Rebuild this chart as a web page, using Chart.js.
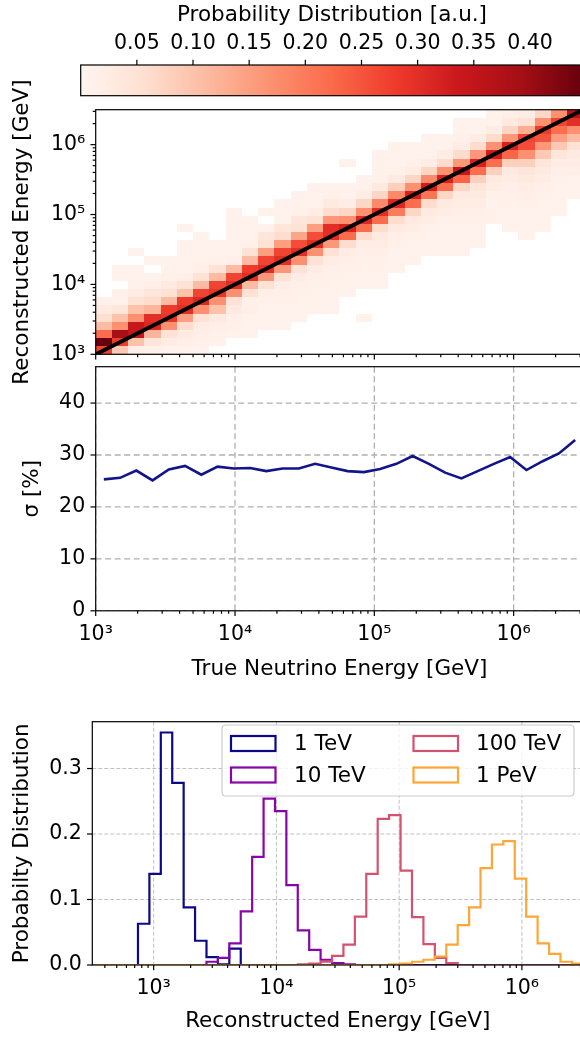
<!DOCTYPE html>
<html><head><meta charset="utf-8">
<script src="https://cdn.jsdelivr.net/npm/chart.js@4.4.1/dist/chart.umd.min.js"></script>
<style>
html,body{margin:0;padding:0;background:#fff;overflow:hidden;width:580px;height:1040px;}
#wrap{position:relative;width:584px;height:1040px;overflow:hidden;}
canvas{position:absolute;left:0;display:block;}
</style></head><body><div id="wrap">
<canvas id="cHeat" width="584" height="340" style="top:60px"></canvas>
<canvas id="cSigma" width="584" height="360" style="top:340px"></canvas>
<canvas id="cBar" width="584" height="110" style="top:0px"></canvas>
<canvas id="cHist" width="584" height="350" style="top:690px"></canvas>
</div>
<script>
// ---------------- DATA ----------------
// bin edges of the 2D histogram (true and reconstructed energy, GeV)
const heatEdges = [1000,1308,1711,2239,2929,3831,5012,6556,8577,11220,14678,19201,25119,32860,42987,56234,73564,96235,125893,164691,215443,281838,368695,482315,630957,825404,1079775,1412538,1847850,2417302,3162278];
// per true-energy column: [first listed reco row, probabilities going upward ...]
const heatCols = [
 [0, 0.27,0.447,0.22,0.11,0.056,0.03,0.012],
 [0, 0.09,0.28,0.39,0.17,0.10,0.04,0.008,0.012,0,0.008,0.008],
 [0, 0.015,0.10,0.34,0.34,0.17,0.10,0.05,0.02,0.012,0.01,0.008,0,0.008],
 [0, 0.012,0.04,0.12,0.31,0.30,0.12,0.06,0.04,0.015,0.01,0,0.008],
 [0, 0.01,0.02,0.05,0.17,0.29,0.28,0.11,0.05,0.03,0.012,0.008,0.008],
 [0, 0.008,0.015,0.03,0.06,0.15,0.30,0.28,0.10,0.05,0.015,0.01,0.008,0.008,0.008,0,0.008],
 [0, 0.008,0.012,0.015,0.02,0.05,0.17,0.31,0.27,0.11,0.05,0.015,0.01,0.008,0.008,0.008],
 [1, 0.008,0.012,0.015,0.03,0.10,0.17,0.29,0.27,0.11,0.05,0.012,0.01,0.008],
 [2, 0.01,0.012,0.015,0.03,0.05,0.17,0.30,0.27,0.11,0.015,0.01,0.008,0.008,0.008,0.008,0.008],
 [2, 0.008,0.008,0.01,0.015,0.012,0.05,0.11,0.30,0.28,0.11,0.05,0.012,0.01,0.008,0.008],
 [3, 0.008,0.008,0.01,0.012,0.015,0.05,0.16,0.30,0.27,0.15,0.05,0.04,0.01,0,0.008],
 [3, 0.008,0.008,0.01,0.012,0.015,0.02,0.05,0.16,0.30,0.27,0.15,0.06,0.04,0.01,0.008,0.008],
 [4, 0.008,0.008,0.01,0.012,0.015,0.02,0.05,0.17,0.30,0.26,0.14,0.05,0.04,0.012,0.008,0.008],
 [5, 0.008,0.008,0.01,0.012,0.015,0.02,0.05,0.17,0.30,0.26,0.15,0.05,0.02,0.01,0.008,0.008],
 [5, 0.008,0.008,0.008,0.01,0.012,0.015,0.02,0.05,0.16,0.30,0.30,0.16,0.06,0.03,0.012,0.008],
 [7, 0.008,0.008,0.01,0.012,0.015,0.02,0.06,0.22,0.32,0.17,0.07,0.02,0.01,0.008,0,0,0.008],
 [4, 0.008,0,0,0,0.008,0.008,0.01,0.012,0.015,0.02,0.06,0.22,0.31,0.17,0.07,0.02,0.01,0.008],
 [8, 0.008,0.008,0.01,0.012,0.015,0.02,0.03,0.06,0.22,0.30,0.18,0.07,0.03,0.012,0.008,0.008,0.008],
 [10, 0.008,0.008,0.01,0.012,0.015,0.03,0.06,0.20,0.31,0.18,0.08,0.03,0.012,0.008,0.008,0.008],
 [11, 0.008,0.008,0.01,0.012,0.02,0.03,0.07,0.22,0.32,0.17,0.07,0.025,0.012,0.008,0.008],
 [12, 0.008,0.008,0.01,0.012,0.02,0.03,0.06,0.21,0.33,0.18,0.07,0.02,0.01,0.008,0.008],
 [12, 0.008,0.008,0.008,0.01,0.012,0.02,0.03,0.07,0.22,0.32,0.17,0.06,0.02,0.01,0.008],
 [12, 0.008,0.008,0.008,0.01,0.012,0.015,0.02,0.03,0.07,0.23,0.34,0.16,0.06,0.02,0.012,0.008,0.008],
 [13, 0.008,0.008,0.01,0.012,0.015,0.02,0.03,0.04,0.08,0.22,0.32,0.16,0.06,0.02,0.01,0.008],
 [16, 0.008,0.008,0.01,0.012,0.02,0.03,0.08,0.22,0.33,0.17,0.06,0.02,0.01,0.008],
 [15, 0.008,0.008,0.008,0.01,0.012,0.015,0.02,0.03,0.08,0.23,0.32,0.16,0.07,0.03,0.015],
 [14, 0.008,0.008,0.008,0.01,0.012,0.015,0.02,0.03,0.04,0.08,0.17,0.26,0.27,0.13,0.05,0.02],
 [15, 0.008,0.008,0.008,0.01,0.012,0.015,0.02,0.03,0.04,0.09,0.16,0.25,0.28,0.17,0.07],
 [17, 0.008,0.008,0.008,0.01,0.012,0.015,0.02,0.04,0.09,0.15,0.22,0.27,0.17],
 [19, 0.008,0.008,0.01,0.015,0.02,0.03,0.05,0.11,0.17,0.30,0.36]
];
const diagX = [1000, 3162278];
const diagY = [1000, 3162278];
const cbMin = 0, cbMax = 0.4475;
const cbTicks = [0.05,0.10,0.15,0.20,0.25,0.30,0.35,0.40];

// resolution panel
const sigmaE = [1143.8,1496.2,1957.3,2560.5,3349.7,4382.0,5732.5,7498.9,9810.0,12834,16788,21962,28730,37584,49167,64320,84140,110069,143992,188365,246413,322351,421697,551656,721670,944061,1235000,1615600,2113500,2764800];
const sigmaPct = [25.3,25.6,27.0,25.1,27.2,27.9,26.2,27.75,27.4,27.5,26.9,27.4,27.4,28.3,27.6,26.9,26.7,27.3,28.3,29.8,28.3,26.6,25.5,26.9,28.3,29.6,27.1,28.8,30.3,32.9];
const sigmaTicks = [0,10,20,30,40];

// reconstructed-energy histograms
const recoEdges = [316.23,391.74,485.28,601.16,744.9,922.8,1143.2,1416.3,1754.7,2173.7,2693.0,3336.3,4133.3,5120.7,6344.0,7858.9,9736.3,12048,14926,18490,22905,28374,35149,43542,53940,66820,82776,102642,127162,157574,195298,241944,299716,371288,459942,569779,705805,874387,1083600,1342400,1663000,2060100,2552100,3162278];
const histLabels = ['1 TeV','10 TeV','100 TeV','1 PeV'];
const hist1TeV   = [0,0,0,0,0.063,0.139,0.355,0.278,0.088,0.037,0.012,0.001,0.025,0,0,0,0,0,0,0,0,0,0,0,0,0,0,0,0,0,0,0,0,0,0,0,0,0,0,0,0,0,0];
const hist10TeV  = [0,0,0,0,0,0,0,0,0,0,0.005,0.011,0.033,0.082,0.165,0.254,0.235,0.122,0.053,0.023,0.008,0.003,0.001,0,0,0,0,0,0,0,0,0,0,0,0,0,0,0,0,0,0,0,0];
const hist100TeV = [0,0,0,0,0,0,0,0,0,0,0,0,0,0,0,0,0,0,0.001,0.002,0.005,0.014,0.031,0.074,0.139,0.223,0.229,0.144,0.073,0.032,0.011,0.003,0,0,0,0,0,0,0,0,0,0,0];
const hist1PeV   = [0,0,0,0,0,0,0,0,0,0,0,0,0,0,0,0,0,0,0,0,0,0,0,0,0,0,0.001,0.002,0.005,0.008,0.013,0.031,0.061,0.088,0.148,0.184,0.189,0.132,0.074,0.033,0.017,0.005,0.002];
const histTicks = [0,0.1,0.2,0.3];

// ---------------- STYLE / HELPERS ----------------
const FONT = "'DejaVu Sans', 'Liberation Sans', sans-serif";
Chart.defaults.font.family = FONT;
Chart.defaults.font.size = 20.5;
Chart.defaults.color = '#000';
Chart.defaults.animation = false;
Chart.defaults.responsive = false;
Chart.defaults.devicePixelRatio = 1;
Chart.defaults.plugins.legend.display = false;
Chart.defaults.plugins.tooltip.enabled = false;

const REDS = ['#fff5f0','#fee0d2','#fcbba1','#fc9272','#fb6a4a','#ef3b2c','#cb181d','#a50f15','#67000d'];
function hexRgb(h){return [parseInt(h.substr(1,2),16),parseInt(h.substr(3,2),16),parseInt(h.substr(5,2),16)];}
function reds(t){
  t = Math.max(0, Math.min(1, t));
  const p = t*8, i = Math.min(7, Math.floor(p)), f = p - i;
  const a = hexRgb(REDS[i]), b = hexRgb(REDS[i+1]);
  return 'rgb(' + a.map((v,k)=>Math.round(v+(b[k]-v)*f)).join(',') + ')';
}
const SUP = {'0':'⁰','1':'¹','2':'²','3':'³','4':'⁴','5':'⁵','6':'⁶','7':'⁷','8':'⁸','9':'⁹','-':'⁻'};
function pow10Label(v){
  const l = Math.log10(v), e = Math.round(l);
  if (Math.abs(l - e) > 1e-6) return '';
  return '10' + String(e).split('').map(c=>SUP[c]).join('');
}
function logTickList(min, max){
  const t = [];
  for (let e = Math.floor(Math.log10(min)); e <= Math.ceil(Math.log10(max)); e++){
    for (let m = 1; m <= 9; m++){
      const v = m*Math.pow(10,e);
      if (v >= min*0.9999 && v <= max*1.0001) t.push({value:v, major: m===1});
    }
  }
  return t;
}
function fixedTicks(list){ return s => { s.ticks = list.map(v=>({value:v, major:true})); }; }
// invisible Chart.js tick marks: only used to offset the labels from the frame
function offsetGrid(len){ return {display:true, drawOnChartArea:false, drawTicks:true, tickLength:len, color:'rgba(0,0,0,0)'}; }

// matplotlib-like axes: frame, outward tick marks, dashed grid
const mplAxes = {
  id: 'mplAxes',
  beforeDatasetsDraw(chart, args, o){
    const {ctx, chartArea: a} = chart;
    if (!o.grid) return;
    ctx.save();
    ctx.beginPath(); ctx.rect(a.left, a.top, a.right-a.left, a.bottom-a.top); ctx.clip();
    ctx.strokeStyle = o.grid.color; ctx.lineWidth = o.grid.width; ctx.setLineDash(o.grid.dash);
    o.grid.axes.forEach(id => {
      const s = chart.scales[id];
      s.ticks.forEach(t => {
        if (!t.major) return;
        const p = s.getPixelForValue(t.value);
        ctx.beginPath();
        if (s.isHorizontal()) { ctx.moveTo(p, a.top); ctx.lineTo(p, a.bottom); }
        else { ctx.moveTo(a.left, p); ctx.lineTo(a.right, p); }
        ctx.stroke();
      });
    });
    ctx.restore();
  },
  afterDraw(chart, args, o){
    const {ctx, chartArea: a} = chart;
    ctx.save();
    ctx.strokeStyle = '#000'; ctx.lineWidth = 1.2; ctx.setLineDash([]);
    (o.ticks || []).forEach(ax => {
      const s = chart.scales[ax.id];
      s.ticks.forEach(t => {
        const p = s.getPixelForValue(t.value);
        const len = t.major ? 5.25 : 3;
        ctx.beginPath();
        if (ax.side === 'bottom') { ctx.moveTo(p, a.bottom); ctx.lineTo(p, a.bottom+len); }
        else if (ax.side === 'top') { ctx.moveTo(p, a.top); ctx.lineTo(p, a.top-len); }
        else { ctx.moveTo(a.left, p); ctx.lineTo(a.left-len, p); }
        ctx.stroke();
      });
    });
    ctx.strokeRect(a.left, a.top, a.right-a.left, a.bottom-a.top);
    ctx.restore();
  }
};

const heatPlugin = {
  id: 'heatCells',
  beforeDatasetsDraw(chart){
    const {ctx, scales:{x, y}} = chart;
    ctx.save();
    heatCols.forEach((col, c) => {
      const xa = Math.round(x.getPixelForValue(heatEdges[c]));
      const xb = Math.round(x.getPixelForValue(heatEdges[c+1]));
      for (let k = 1; k < col.length; k++){
        const v = col[k];
        if (!(v > 0)) continue;
        const r = col[0] + k - 1;
        const ya = Math.round(y.getPixelForValue(heatEdges[r]));
        const yb = Math.round(y.getPixelForValue(heatEdges[r+1]));
        ctx.fillStyle = reds((v - cbMin)/(cbMax - cbMin));
        ctx.fillRect(xa, yb, xb-xa, ya-yb);
      }
    });
    ctx.restore();
  }
};

const barPlugin = {
  id: 'colorbarFill',
  beforeDatasetsDraw(chart){
    const {ctx, chartArea: a, scales:{x}} = chart;
    const g = ctx.createLinearGradient(x.getPixelForValue(cbMin),0,x.getPixelForValue(cbMax),0);
    REDS.forEach((c,i)=>g.addColorStop(i/(REDS.length-1), c));
    ctx.save(); ctx.fillStyle = g; ctx.fillRect(a.left, a.top, a.right-a.left, a.bottom-a.top); ctx.restore();
  }
};

const legendPlugin = {
  id: 'mplLegend',
  afterDatasetsDraw(chart){
    const ctx = chart.ctx, ds = chart.data.datasets;
    ctx.save();
    const bx = 222, by = 35, bw = 352, bh = 71, r = 4;
    ctx.beginPath();
    ctx.moveTo(bx+r,by); ctx.lineTo(bx+bw-r,by); ctx.quadraticCurveTo(bx+bw,by,bx+bw,by+r);
    ctx.lineTo(bx+bw,by+bh-r); ctx.quadraticCurveTo(bx+bw,by+bh,bx+bw-r,by+bh);
    ctx.lineTo(bx+r,by+bh); ctx.quadraticCurveTo(bx,by+bh,bx,by+bh-r);
    ctx.lineTo(bx,by+r); ctx.quadraticCurveTo(bx,by,bx+r,by); ctx.closePath();
    ctx.fillStyle = 'rgba(255,255,255,0.8)'; ctx.fill();
    ctx.strokeStyle = '#cccccc'; ctx.lineWidth = 1.2; ctx.stroke();
    const cols = [[231, 294],[413.5, 476]], rows = [46, 77.5];
    ctx.font = '21.5px ' + FONT; ctx.textBaseline = 'middle'; ctx.fillStyle = '#000';
    ds.forEach((d, i) => {
      const c = cols[Math.floor(i/2)], ry = rows[i%2];
      ctx.strokeStyle = d.borderColor; ctx.lineWidth = 2.2;
      ctx.strokeRect(c[0], ry, 44.5, 15);
      ctx.fillText(d.label, c[1], ry + 8.5);
    });
    ctx.restore();
  }
};

const TITLE_FONT = {size: 21.5};
const noBorder = {display:false};

// ---------------- COLORBAR ----------------
new Chart(document.getElementById('cBar'), {
  type: 'scatter',
  data: {datasets: []},
  plugins: [barPlugin, mplAxes],
  options: {
    layout: {padding: {left: 80.7, right: 0.7, top: 0, bottom: 14.3}},
    plugins: {mplAxes: {ticks: [{id:'x', side:'top'}]}},
    scales: {
      x: {type:'linear', position:'top', min: cbMin, max: cbMax,
          grid: offsetGrid(8.8), border: noBorder,
          afterBuildTicks: fixedTicks(cbTicks),
          afterFit: s => { s.height = 65; },
          ticks: {autoSkip:false, maxRotation:0, padding: 0, callback: v => v.toFixed(2)},
          title: {display:true, text:'Probability Distribution [a.u.]', font: TITLE_FONT, padding:{top:3, bottom:0}}},
      y: {display:false, min:0, max:1}
    }
  }
});

// ---------------- HEATMAP ----------------
new Chart(document.getElementById('cHeat'), {
  type: 'line',
  data: {datasets: [{data: diagX.map((v,i)=>({x:v, y:diagY[i]})), borderColor:'#000', borderWidth:4, pointRadius:0, tension:0}]},
  plugins: [heatPlugin, mplAxes],
  options: {
    layout: {padding: {left:0, right:0.7, top:49.7, bottom:0}},
    plugins: {mplAxes: {ticks: [{id:'x', side:'bottom'},{id:'y', side:'left'}]}},
    scales: {
      x: {type:'logarithmic', min: heatEdges[0], max: heatEdges[heatEdges.length-1],
          grid: {display:false}, border: noBorder,
          afterBuildTicks: s => { s.ticks = logTickList(heatEdges[0], heatEdges[heatEdges.length-1]); },
          afterFit: s => { s.height = 45.7; },
          ticks: {display:false}},
      y: {type:'logarithmic', min: heatEdges[0], max: heatEdges[heatEdges.length-1],
          grid: offsetGrid(10.5), border: noBorder,
          afterBuildTicks: s => { s.ticks = logTickList(heatEdges[0], heatEdges[heatEdges.length-1]); },
          afterFit: s => { s.width = 95.7; },
          ticks: {autoSkip:false, padding: 0, callback: v => pow10Label(v)},
          title: {display:true, text:'Reconstructed Energy [GeV]', font: TITLE_FONT, padding:{top:10, bottom:0}}}
    }
  }
});

// ---------------- RESOLUTION ----------------
new Chart(document.getElementById('cSigma'), {
  type: 'line',
  data: {datasets: [{data: sigmaE.map((v,i)=>({x:v, y:sigmaPct[i]})), borderColor:'#13138a', borderWidth:2.6, pointRadius:0, tension:0}]},
  plugins: [mplAxes],
  options: {
    layout: {padding: {left:0, right:0.7, top:26.7, bottom:0}},
    plugins: {mplAxes: {ticks: [{id:'x', side:'bottom'},{id:'y', side:'left'}],
              grid: {axes:['x','y'], color:'#b0b0b0', width:1.3, dash:[6,3.5]}}},
    scales: {
      x: {type:'logarithmic', min: heatEdges[0], max: heatEdges[heatEdges.length-1],
          grid: offsetGrid(11.5), border: noBorder,
          afterBuildTicks: s => { s.ticks = logTickList(heatEdges[0], heatEdges[heatEdges.length-1]); },
          afterFit: s => { s.height = 89.2; },
          ticks: {autoSkip:false, maxRotation:0, padding: 0, callback: v => pow10Label(v)},
          title: {display:true, text:'True Neutrino Energy [GeV]', font: TITLE_FONT, padding:{top:0, bottom:18}}},
      y: {type:'linear', min:0, max:47,
          grid: offsetGrid(10.5), border: noBorder,
          afterBuildTicks: fixedTicks(sigmaTicks),
          afterFit: s => { s.width = 95.7; },
          ticks: {autoSkip:false, padding: 0, callback: v => String(v)},
          title: {display:true, text:'σ [%]', font: TITLE_FONT, padding:{top:20, bottom:0}}}
    }
  }
});

// ---------------- HISTOGRAMS ----------------
function stepData(vals){
  const d = vals.map((v,i)=>({x: recoEdges[i], y: v}));
  d.push({x: recoEdges[recoEdges.length-1], y: 0});
  return d;
}
const histColors = ['#0d0887','#8606a6','#d45270','#fca636'];
new Chart(document.getElementById('cHist'), {
  type: 'line',
  data: {datasets: [hist1TeV, hist10TeV, hist100TeV, hist1PeV].map((h,i)=>({
    label: histLabels[i], data: stepData(h), stepped: 'before',
    borderColor: histColors[i], borderWidth: 2.2, pointRadius: 0, order: 3-i
  }))},
  plugins: [mplAxes, legendPlugin],
  options: {
    layout: {padding: {left:0, right:0.7, top:31.7, bottom:0}},
    plugins: {mplAxes: {ticks: [{id:'x', side:'bottom'},{id:'y', side:'left'}],
              grid: {axes:['x','y'], color:'#c0c0c0', width:1, dash:[4,2]}}},
    scales: {
      x: {type:'logarithmic', min: recoEdges[0], max: recoEdges[recoEdges.length-1],
          grid: offsetGrid(11.5), border: noBorder,
          afterBuildTicks: s => { s.ticks = logTickList(recoEdges[0], recoEdges[recoEdges.length-1]); },
          afterFit: s => { s.height = 75; },
          ticks: {autoSkip:false, maxRotation:0, padding: 0, callback: v => pow10Label(v)},
          title: {display:true, text:'Reconstructed Energy [GeV]', font: TITLE_FONT, padding:{top:0, bottom:6}}},
      y: {type:'linear', min:0, max:0.3715,
          grid: offsetGrid(10.5), border: noBorder,
          afterBuildTicks: fixedTicks(histTicks),
          afterFit: s => { s.width = 92.3; },
          ticks: {autoSkip:false, padding: 0, callback: v => v.toFixed(1)},
          title: {display:true, text:'Probabilty Distribution', font: TITLE_FONT, padding:{top:10, bottom:0}}}
    }
  }
});
</script></body></html>
